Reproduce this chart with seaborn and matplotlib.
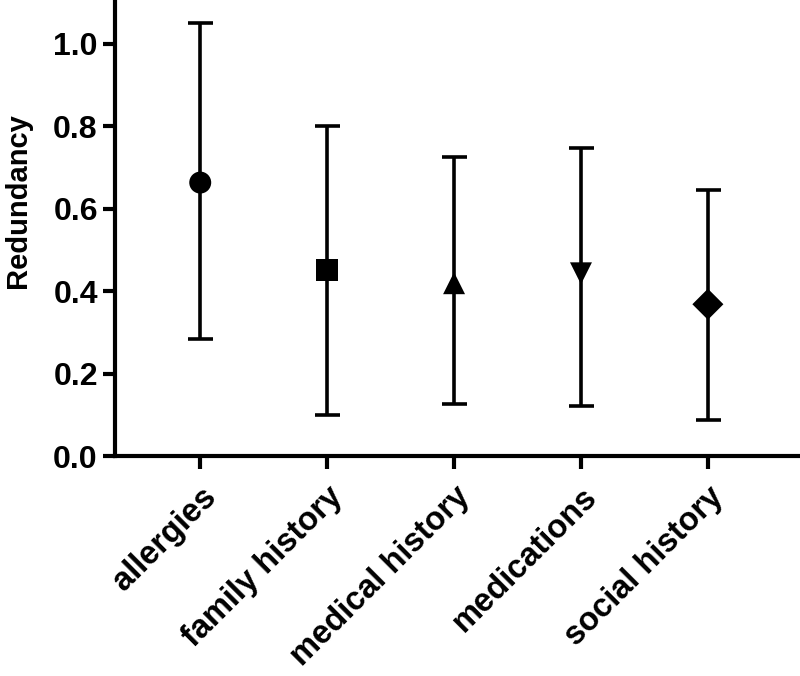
import numpy as np
import pandas as pd
import matplotlib
matplotlib.use("Agg")
import matplotlib.pyplot as plt
import seaborn as sns

# dati
categorie = ["allergies", "family history", "medical history", "medications", "social history"]
media = [0.663, 0.450, 0.419, 0.443, 0.368]
limite_inf = [0.283, 0.099, 0.126, 0.121, 0.087]
limite_sup = [1.051, 0.799, 0.726, 0.746, 0.646]
marker_list = ["o", "s", "^", "v", "D"]

df = pd.DataFrame({"categoria": categorie, "media": media,
                   "inf": limite_inf, "sup": limite_sup})

sns.set_style("ticks")
plt.rcParams['font.family'] = ['Liberation Sans', 'DejaVu Sans']
plt.rcParams['font.weight'] = 'bold'
plt.rcParams['text.color'] = 'black'
plt.rcParams['axes.labelcolor'] = 'black'
plt.rcParams['xtick.color'] = 'black'
plt.rcParams['ytick.color'] = 'black'

fig = plt.figure(figsize=(8, 6.76), dpi=100)
ax = fig.add_axes([0.144, 0.3254, 0.8535, 0.6736])

# barre di errore
err = np.array([df["media"] - df["inf"], df["sup"] - df["media"]])
ax.errorbar(df["categoria"], df["media"], yerr=err, fmt="none",
            ecolor="black", elinewidth=2.6, capsize=9, capthick=2.6, zorder=2)

# punti con marker diversi
sns.scatterplot(data=df, x="categoria", y="media", style="categoria",
                markers=dict(zip(categorie, marker_list)), color="black",
                s=250, edgecolor="black", linewidth=0, legend=False, ax=ax, zorder=3)

ax.set_xlim(-0.67, 4.71)
ax.set_ylim(0, 1.104)
ax.set_yticks([0.0, 0.2, 0.4, 0.6, 0.8, 1.0])
ax.set_yticklabels(["0.0", "0.2", "0.4", "0.6", "0.8", "1.0"])
ax.set_xlabel("")
ax.set_ylabel("Redundancy", fontsize=21, fontweight="bold")
ax.yaxis.set_label_coords(-0.122, 0.56)

for lab in ax.get_xticklabels():
    lab.set_rotation(45)
    lab.set_ha("right")
    lab.set_rotation_mode("anchor")

ax.tick_params(axis="both", labelsize=23, width=3, length=9, direction="out", color="black")
ax.tick_params(axis="x", labelsize=23.5, pad=9)
for l in ax.get_xticklabels() + ax.get_yticklabels():
    l.set_fontweight("bold")

sns.despine(ax=ax)
for sp in ["left", "bottom"]:
    ax.spines[sp].set_linewidth(3)
    ax.spines[sp].set_color("black")

fig.savefig("out.png", dpi=100)
